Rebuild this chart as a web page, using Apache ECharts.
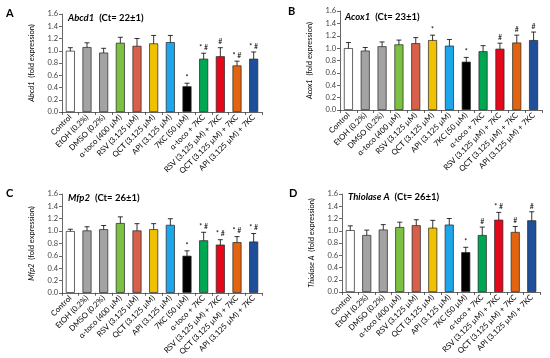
<!DOCTYPE html>
<html><head><meta charset="utf-8">
<script src="https://cdn.jsdelivr.net/npm/echarts@6/dist/echarts.min.js"></script>
<style>html,body{margin:0;padding:0;background:#fff}#c{width:550px;height:358px}</style>
</head><body><div id="c"></div>
<script>
// ---------- DATA ----------
const categories = ["Control","EtOH (0.2%)","DMSO (0.2%)","α-toco (400 µM)","RSV (3.125 µM)","QCT (3.125 µM)","API (3.125 µM)","7KC (50 µM)","α-toco + 7KC","RSV (3.125 µM) + 7KC","QCT (3.125 µM) + 7KC","API (3.125 µM) + 7KC"];
const yTicks = [0,0.2,0.4,0.6,0.8,1.0,1.2,1.4,1.6];

const geneNames = ["Abcd1","Acox1","Mfp2","Thiolase A"];
const ctTexts = ["(Ct= 22±1)","(Ct= 23±1)","(Ct= 26±1)","(Ct= 26±1)"];
const panelLetters = ["A","B","C","D"];

const abcd1Values = [1.00,1.06,0.97,1.13,1.08,1.12,1.14,0.42,0.87,0.91,0.76,0.87];
const abcd1Errors = [0.05,0.07,0.07,0.09,0.12,0.13,0.11,0.05,0.09,0.14,0.07,0.11];
const abcd1Marks  = ["","","","","","","","*","* #","#","* #","* #"];

const acox1Values = [1.00,0.96,1.03,1.06,1.08,1.13,1.04,0.78,0.95,0.99,1.09,1.13];
const acox1Errors = [0.09,0.05,0.07,0.07,0.09,0.08,0.10,0.07,0.09,0.09,0.12,0.13];
const acox1Marks  = ["","","","","","*","","*","","#","#","#"];

const mfp2Values = [1.00,1.01,1.03,1.13,1.01,1.03,1.10,0.60,0.85,0.78,0.82,0.83];
const mfp2Errors = [0.03,0.06,0.06,0.10,0.11,0.09,0.10,0.08,0.13,0.08,0.09,0.13];
const mfp2Marks  = ["","","","","","","","*","* #","* #","* #","* #"];

const thiolaseValues = [1.01,0.93,1.02,1.06,1.09,1.05,1.10,0.65,0.93,1.18,0.98,1.17];
const thiolaseErrors = [0.07,0.08,0.08,0.08,0.09,0.12,0.10,0.08,0.13,0.12,0.09,0.14];
const thiolaseMarks  = ["","","","","","","","*","#","* #","#","#"];

// ---------- STYLE ----------
const barColors = ["#ffffff","#a3a3a3","#a3a3a3","#7cc142","#d8604a","#efc100","#1da7ea","#000000","#00a651","#e5081a","#e2640f","#1f4f99"];
const panels = [
  {vals:abcd1Values, errs:abcd1Errors, marks:abcd1Marks, grid:{left:62,top:14,width:200,height:98}, title:{x:68,y:9}, letter:{x:6,y:8}},
  {vals:acox1Values, errs:acox1Errors, marks:acox1Marks, grid:{left:340,top:11,width:202,height:99}, title:{x:345,y:8}, letter:{x:288,y:6}},
  {vals:mfp2Values, errs:mfp2Errors, marks:mfp2Marks, grid:{left:62,top:194,width:200,height:99}, title:{x:68,y:189}, letter:{x:6,y:188}},
  {vals:thiolaseValues, errs:thiolaseErrors, marks:thiolaseMarks, grid:{left:342,top:194,width:198,height:98}, title:{x:348,y:188}, letter:{x:289,y:188}}
];
const FONT = "Lato, 'Open Sans', sans-serif";
const axisCol = "#404040";

const grids=[], xAxes=[], yAxes=[], series=[], titles=[];
panels.forEach((p,i)=>{
  grids.push(p.grid);
  xAxes.push({type:'category', gridIndex:i, data:categories,
    axisLine:{lineStyle:{color:axisCol,width:0.8}},
    axisTick:{show:true, alignWithLabel:false, length:3, lineStyle:{color:axisCol,width:0.8}},
    axisLabel:{rotate:45, fontSize:7.8, color:'#000', fontFamily:FONT, margin:4, interval:0}});
  yAxes.push({type:'value', gridIndex:i, min:0, max:1.6, interval:0.2,
    name:'{i|'+geneNames[i]+'}  (fold expression)', nameLocation:'middle', nameGap:26, nameRotate:90,
    nameTextStyle:{fontSize:7.5, color:'#000', fontFamily:FONT, rich:{i:{fontStyle:'italic',fontSize:7.5,fontFamily:FONT}}},
    axisLine:{show:true, lineStyle:{color:axisCol,width:0.8}},
    axisTick:{show:true, length:3, lineStyle:{color:axisCol,width:0.8}},
    splitLine:{show:false},
    axisLabel:{fontSize:7.5, color:'#404040', fontFamily:FONT, margin:4, formatter:v=>v.toFixed(1)}});
  series.push({type:'bar', xAxisIndex:i, yAxisIndex:i, barWidth:9,
    data:p.vals.map((v,k)=>({value:v, itemStyle:{color:barColors[k]}})),
    itemStyle:{borderColor:'#222', borderWidth:0.7}, silent:true, animation:false});
  series.push({type:'custom', xAxisIndex:i, yAxisIndex:i, silent:true, animation:false,
    data:p.vals.map((v,k)=>[k, v, p.errs[k], p.marks[k]]),
    renderItem:function(params, api){
      const x = api.value(0), v=api.value(1), e=api.value(2);
      const hi = api.coord([x, v+e]), lo = api.coord([x, v-e]);
      const cw = 2.5;
      const st = {stroke:'#000', lineWidth:0.8};
      const ch = [
        {type:'line', shape:{x1:hi[0],y1:hi[1],x2:lo[0],y2:lo[1]}, style:st},
        {type:'line', shape:{x1:hi[0]-cw,y1:hi[1],x2:hi[0]+cw,y2:hi[1]}, style:st},
        {type:'line', shape:{x1:lo[0]-cw,y1:lo[1],x2:lo[0]+cw,y2:lo[1]}, style:st}
      ];
      const m = p.marks[params.dataIndex];
      if (m) ch.push({type:'text', x:hi[0], y:hi[1]-2, style:{text:m, fill:'#000', fontSize:7, fontFamily:FONT, align:'center', verticalAlign:'bottom'}});
      return {type:'group', children:ch};
    }});
  titles.push({text:'{g|'+geneNames[i]+'} {c|'+ctTexts[i]+'}', left:p.title.x, top:p.title.y, padding:0,
    textStyle:{rich:{g:{fontSize:9.5,fontWeight:'bold',fontStyle:'italic',fontFamily:FONT,color:'#000'}, c:{fontSize:9.5,fontFamily:FONT,color:'#000'}}}});
  titles.push({text:panelLetters[i], left:p.letter.x, top:p.letter.y, padding:0, textStyle:{fontSize:11,fontWeight:'bold',fontFamily:FONT,color:'#000'}});
});

const chart = echarts.init(document.getElementById('c'), null, {renderer:'canvas'});
chart.setOption({animation:false, backgroundColor:'#fff', title:titles, grid:grids, xAxis:xAxes, yAxis:yAxes, series:series});
</script></body></html>
